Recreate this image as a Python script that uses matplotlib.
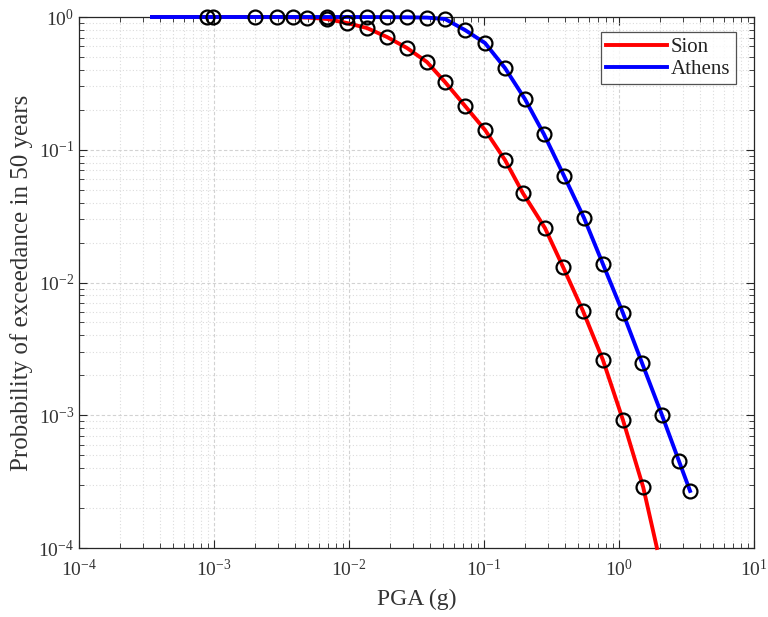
import matplotlib
matplotlib.use("Agg")
import matplotlib.pyplot as plt
from matplotlib.ticker import LogLocator, NullFormatter

plt.rcParams['font.family'] = ['Liberation Serif', 'DejaVu Serif']
plt.rcParams['mathtext.fontset'] = 'stix'

# ---- data ----
# Sion (red) curve
sion_line_x = [3.47e-4, 1.0e-3, 3.0e-3, 5.0e-3, 6.87e-3, 9.66e-3, 0.01358, 0.0191, 0.0269,
               0.0378, 0.0514, 0.0723, 0.1017, 0.143, 0.194, 0.283, 0.385, 0.541,
               0.760, 1.07, 1.51, 1.91]
sion_line_y = [1.0, 1.0, 0.998, 0.99, 0.966, 0.901, 0.826, 0.707, 0.584,
               0.458, 0.324, 0.214, 0.141, 0.0838, 0.0472, 0.0257, 0.0131, 0.0061,
               0.00261, 0.00092, 0.000288, 0.0001]
sion_mark_x = [9.84e-4, 2.93e-3, 4.89e-3, 6.87e-3, 9.66e-3, 0.01358, 0.0191, 0.0269,
               0.0378, 0.0514, 0.0723, 0.1017, 0.143, 0.194, 0.283, 0.385, 0.541,
               0.760, 1.07, 1.51]
sion_mark_y = [1.0, 0.999, 0.99, 0.966, 0.901, 0.826, 0.707, 0.584,
               0.458, 0.324, 0.214, 0.141, 0.0838, 0.0472, 0.0257, 0.0131, 0.0061,
               0.00261, 0.00092, 0.000288]

# Athens (blue) curve
athens_line_x = [3.47e-4, 1.0e-3, 6.87e-3, 9.66e-3, 0.01358, 0.0191, 0.0269, 0.0378,
                 0.0514, 0.0723, 0.1017, 0.143, 0.201, 0.278, 0.392, 0.551, 0.760,
                 1.07, 1.48, 2.08, 2.78, 3.36]
athens_line_y = [1.0, 1.0, 1.0, 1.0, 0.999, 0.998, 0.995, 0.99,
                 0.966, 0.798, 0.637, 0.413, 0.241, 0.131, 0.0634, 0.0306, 0.01378,
                 0.00589, 0.00248, 0.001004, 0.000452, 0.000269]
athens_mark_x = [8.87e-4, 2.01e-3, 3.85e-3, 6.87e-3, 9.66e-3, 0.01358, 0.0191, 0.0269,
                 0.0378, 0.0514, 0.0723, 0.1017, 0.143, 0.201, 0.278, 0.392, 0.551,
                 0.760, 1.07, 1.48, 2.08, 2.78, 3.36]
athens_mark_y = [1.0, 1.0, 1.0, 1.0, 1.0, 0.999, 0.998, 0.995,
                 0.99, 0.966, 0.798, 0.637, 0.413, 0.241, 0.131, 0.0634, 0.0306,
                 0.01378, 0.00589, 0.00248, 0.001004, 0.000452, 0.000269]

series_labels = ['Sion', 'Athens']
series_colors = ['#ff0000', '#0000ff']

fig = plt.figure(figsize=(7.68, 6.17), dpi=100)
ax = fig.add_axes([79/768, 1-548/617, (754-79)/768, (548-17)/617])

ax.plot(sion_line_x, sion_line_y, color=series_colors[0], lw=2.8, label=series_labels[0],
        zorder=3, clip_on=False)
ax.plot(athens_line_x, athens_line_y, color=series_colors[1], lw=2.8, label=series_labels[1],
        zorder=3, clip_on=False)
ax.plot(sion_mark_x, sion_mark_y, 'o', mfc='none', mec='black', ms=10, mew=1.6, zorder=4,
        clip_on=False)
ax.plot(athens_mark_x, athens_mark_y, 'o', mfc='none', mec='black', ms=10, mew=1.6, zorder=4,
        clip_on=False)

ax.set_xscale('log')
ax.set_yscale('log')
ax.set_xlim(1e-4, 10)
ax.set_ylim(1e-4, 1)

ax.xaxis.set_major_locator(LogLocator(base=10, numticks=10))
ax.yaxis.set_major_locator(LogLocator(base=10, numticks=10))
ax.xaxis.set_minor_locator(LogLocator(base=10, subs=range(2, 10), numticks=20))
ax.yaxis.set_minor_locator(LogLocator(base=10, subs=range(2, 10), numticks=20))
ax.xaxis.set_minor_formatter(NullFormatter())
ax.yaxis.set_minor_formatter(NullFormatter())

ax.grid(True, which='major', color='#d2d2d2', linestyle=(0, (3, 2)), linewidth=0.8)
ax.grid(True, which='minor', color='#dcdcdc', linestyle=(0, (1, 2)), linewidth=0.8)
ax.set_axisbelow(True)

ax.tick_params(which='both', direction='in', top=True, right=True, colors='#262626',
               labelcolor='#333333', labelsize=14)
ax.tick_params(which='major', length=6, width=0.8)
ax.tick_params(which='minor', length=3.5, width=0.6)
ax.tick_params(axis='x', pad=8)
for s in ax.spines.values():
    s.set_color('#262626')
    s.set_linewidth(0.9)

ax.set_xlabel('PGA (g)', fontsize=17, color='#333333', labelpad=6)
ax.set_ylabel('Probability of exceedance in 50 years', fontsize=18, color='#333333', labelpad=4)

leg = ax.legend(loc='upper right', bbox_to_anchor=(0.973, 0.971), fontsize=15, frameon=True,
                fancybox=False, edgecolor='#262626', handlelength=2.9, handletextpad=0.2,
                borderpad=0.25, labelspacing=0.1, borderaxespad=0.0)
leg.get_frame().set_linewidth(0.9)
for t in leg.get_texts():
    t.set_color('#222222')

fig.savefig('out.png', dpi=100)
